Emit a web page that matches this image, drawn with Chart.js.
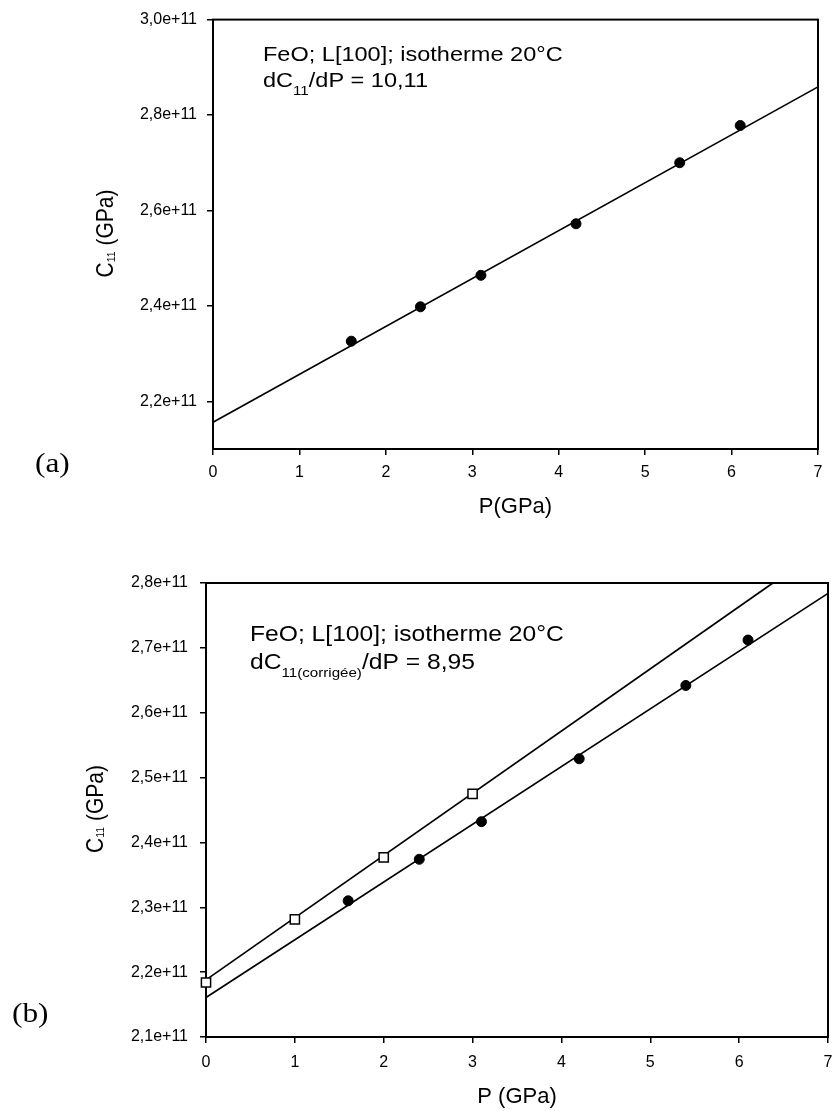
<!DOCTYPE html>
<html><head><meta charset="utf-8">
<script src="https://cdn.jsdelivr.net/npm/chart.js@4/dist/chart.umd.min.js"></script>
<style>
html,body{margin:0;padding:0;background:#fff;width:836px;height:1111px;overflow:hidden;}
#wrapA{position:absolute;left:0;top:0;width:836px;height:540px;}
#wrapB{position:absolute;left:0;top:540px;width:836px;height:571px;}
canvas{display:block;}
</style></head><body>
<div id="wrapA"><canvas id="chartA" width="836" height="540"></canvas></div>
<div id="wrapB"><canvas id="chartB" width="836" height="571"></canvas></div>
<script>
// ---- data (a) ----
const pressureA = [1.6, 2.4, 3.1, 4.2, 5.4, 6.1];
const c11A = [2.326e11, 2.398e11, 2.464e11, 2.572e11, 2.700e11, 2.778e11];
const fitPA = [0, 7];
const fitCA = [2.156e11, 2.859e11];
const xTicksA = [0, 1, 2, 3, 4, 5, 6, 7];
const yTicksA = [2.2e11, 2.4e11, 2.6e11, 2.8e11, 3.0e11];

// ---- data (b) ----
const pressureB = [1.6, 2.4, 3.1, 4.2, 5.4, 6.1];
const c11B = [2.310e11, 2.374e11, 2.432e11, 2.529e11, 2.642e11, 2.712e11];
const pressureBCorr = [0, 1, 2, 3];
const c11BCorr = [2.184e11, 2.2815e11, 2.377e11, 2.475e11];
const fitPB = [0, 7];
const fitCB = [2.161e11, 2.784e11];
const fitPBCorr = [0, 6.38];
const fitCBCorr = [2.188e11, 2.8e11];
const xTicksB = [0, 1, 2, 3, 4, 5, 6, 7];
const yTicksB = [2.1e11, 2.2e11, 2.3e11, 2.4e11, 2.5e11, 2.6e11, 2.7e11, 2.8e11];

const SANS = "'Liberation Sans', Arial, sans-serif";
const SERIF = "'Liberation Serif', 'Times New Roman', serif";
const SX = 1.12;

function pts(xs, ys) { return xs.map((x, i) => ({x: x, y: ys[i]})); }
function fmtY(v) { return (v / 1e11).toFixed(1).replace('.', ',') + 'e+11'; }

function runsWidth(ctx, runs) {
  let w = 0;
  for (const r of runs) { ctx.font = r.font; w += ctx.measureText(r.text).width; }
  return w;
}
function drawRuns(ctx, x, y, runs, sx) {
  ctx.save();
  ctx.translate(x, y);
  ctx.scale(sx, 1);
  ctx.fillStyle = '#000';
  ctx.textAlign = 'left';
  ctx.textBaseline = 'alphabetic';
  let cx = 0;
  for (const r of runs) {
    ctx.font = r.font;
    ctx.fillText(r.text, cx, r.dy || 0);
    cx += ctx.measureText(r.text).width;
  }
  ctx.restore();
}
function drawVerticalRuns(ctx, bx, cy, runs, sy) {
  ctx.save();
  ctx.translate(bx, cy);
  ctx.rotate(-Math.PI / 2);
  ctx.scale(1, sy);
  ctx.fillStyle = '#000';
  ctx.textAlign = 'left';
  ctx.textBaseline = 'alphabetic';
  const w = runsWidth(ctx, runs);
  let cx = -w / 2;
  for (const r of runs) {
    ctx.font = r.font;
    ctx.fillText(r.text, cx, r.dy || 0);
    cx += ctx.measureText(r.text).width;
  }
  ctx.restore();
}

const framePlugin = {
  id: 'frame',
  beforeDatasetsDraw(chart) {
    const {ctx, chartArea: a} = chart;
    ctx.save();
    ctx.strokeStyle = '#000';
    ctx.lineWidth = 2;
    ctx.strokeRect(a.left, a.top, a.right - a.left, a.bottom - a.top);
    ctx.restore();
  }
};

function textPlugin(id, fn) {
  return { id: id, afterDraw(chart) { fn(chart.ctx); } };
}

function xScale(ticks, title, height, pad) {
  return {
    type: 'linear', min: 0, max: 7,
    afterBuildTicks: s => { s.ticks = ticks.map(v => ({value: v})); },
    afterFit: s => { s.height = height; s.paddingLeft = 0; s.paddingRight = 0; },
    grid: {display: true, drawOnChartArea: false, drawTicks: true, tickLength: 6, color: '#000', lineWidth: 1.5},
    border: {display: false},
    ticks: {color: '#000', font: {family: SANS, size: 16}, padding: pad, maxRotation: 0, autoSkip: false,
            callback: v => String(v)},
    title: {display: true, text: title, color: '#000', font: {family: SANS, size: 22}, padding: 0}
  };
}
function yScale(min, max, ticks, width, pad) {
  return {
    type: 'linear', min: min, max: max,
    afterBuildTicks: s => { s.ticks = ticks.map(v => ({value: v})); },
    afterFit: s => { s.width = width; },
    grid: {display: true, drawOnChartArea: false, drawTicks: true, tickLength: 6, color: '#000', lineWidth: 1.5},
    border: {display: false},
    ticks: {color: '#000', font: {family: SANS, size: 16}, padding: pad, autoSkip: false, callback: v => fmtY(v)}
  };
}

const common = {
  responsive: false,
  devicePixelRatio: 1,
  animation: false,
  events: [],
  plugins: {legend: {display: false}, tooltip: {enabled: false}}
};

// ---------- chart (a) ----------
new Chart(document.getElementById('chartA'), {
  type: 'scatter',
  data: {
    datasets: [
      {label: 'C11 mesuré', data: pts(pressureA, c11A), showLine: false, pointStyle: 'circle',
       pointRadius: 5, backgroundColor: '#000', borderColor: '#000', borderWidth: 1, order: 0, clip: false},
      {label: 'ajustement linéaire', data: pts(fitPA, fitCA), showLine: true, pointRadius: 0,
       borderColor: '#000', borderWidth: 1.7, fill: false, order: 1, clip: false}
    ]
  },
  options: Object.assign({}, common, {
    layout: {padding: {left: 0, top: 15, right: 18, bottom: 20}},
    scales: {
      x: xScale(xTicksA, 'P(GPa)', 71, 8),
      y: yScale(2.1e11, 3.0e11, yTicksA, 213, 10)
    }
  }),
  plugins: [framePlugin, textPlugin('textA', ctx => {
    drawRuns(ctx, 263, 61, [{text: 'FeO; L[100]; isotherme 20°C', font: '21px ' + SANS}], SX);
    drawRuns(ctx, 263, 87, [
      {text: 'dC', font: '21px ' + SANS},
      {text: '11', font: '13.5px ' + SANS, dy: 7.5},
      {text: '/dP = 10,11', font: '21px ' + SANS}
    ], SX);
    drawVerticalRuns(ctx, 113, 233.5, [
      {text: 'C', font: '21px ' + SANS},
      {text: '11', font: '10.5px ' + SANS, dy: 2},
      {text: ' (GPa)', font: '21px ' + SANS}
    ], SX);
    drawRuns(ctx, 35, 472, [{text: '(a)', font: '28px ' + SERIF}], SX);
  })]
});

// ---------- chart (b) ----------
new Chart(document.getElementById('chartB'), {
  type: 'scatter',
  data: {
    datasets: [
      {label: 'C11 corrigé (points)', data: pts(pressureBCorr, c11BCorr), showLine: false, pointStyle: 'rect',
       pointRadius: 6.5, backgroundColor: '#fff', borderColor: '#000', borderWidth: 1.5, order: 0, clip: false},
      {label: 'C11 mesuré', data: pts(pressureB, c11B), showLine: false, pointStyle: 'circle',
       pointRadius: 5, backgroundColor: '#000', borderColor: '#000', borderWidth: 1, order: 1, clip: false},
      {label: 'ajustement corrigé', data: pts(fitPBCorr, fitCBCorr), showLine: true, pointRadius: 0,
       borderColor: '#000', borderWidth: 1.7, fill: false, order: 2, clip: false},
      {label: 'ajustement mesuré', data: pts(fitPB, fitCB), showLine: true, pointRadius: 0,
       borderColor: '#000', borderWidth: 1.7, fill: false, order: 3, clip: false}
    ]
  },
  options: Object.assign({}, common, {
    layout: {padding: {left: 0, top: 43, right: 2, bottom: 1}},
    scales: {
      x: xScale(xTicksB, 'P (GPa)', 73, 10),
      y: yScale(2.1e11, 2.8e11, yTicksB, 206, 12)
    }
  }),
  plugins: [framePlugin, textPlugin('textB', ctx => {
    drawRuns(ctx, 250, 101, [{text: 'FeO; L[100]; isotherme 20°C', font: '22px ' + SANS}], SX);
    drawRuns(ctx, 250, 129, [
      {text: 'dC', font: '22px ' + SANS},
      {text: '11(corrigée)', font: '13.5px ' + SANS, dy: 8},
      {text: '/dP = 8,95', font: '22px ' + SANS}
    ], SX);
    drawVerticalRuns(ctx, 103, 269, [
      {text: 'C', font: '21px ' + SANS},
      {text: '11', font: '10.5px ' + SANS, dy: 1},
      {text: ' (GPa)', font: '21px ' + SANS}
    ], SX);
    drawRuns(ctx, 12, 482, [{text: '(b)', font: '28px ' + SERIF}], SX);
  })]
});
</script>
</body></html>
